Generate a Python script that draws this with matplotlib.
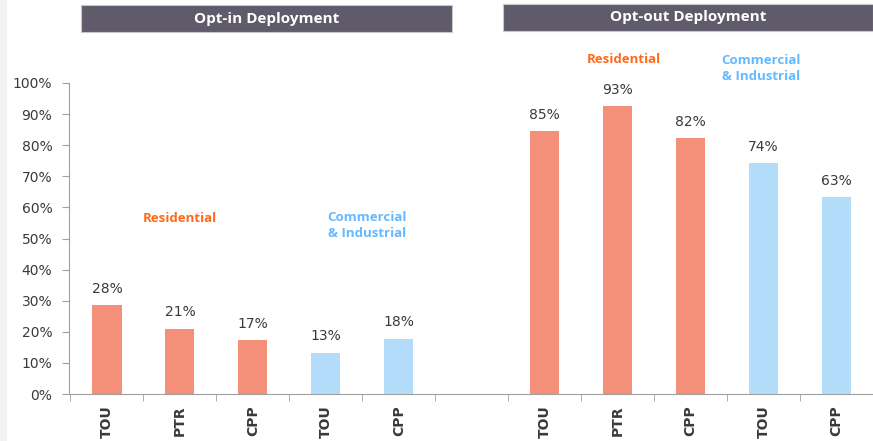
import matplotlib.pyplot as plt
from matplotlib.patches import Rectangle

# categories (blank slot separates the two deployment groups)
categories = ["TOU", "PTR", "CPP", "TOU", "CPP", "", "TOU", "PTR", "CPP", "TOU", "CPP"]
values = [28.5, 21, 17.4, 13.3, 17.8, None, 84.6, 92.6, 82.3, 74.3, 63.3]
value_labels = ["28%", "21%", "17%", "13%", "18%", "", "85%", "93%", "82%", "74%", "63%"]
segments = ["res", "res", "res", "ci", "ci", None, "res", "res", "res", "ci", "ci"]
yticks = [0, 10, 20, 30, 40, 50, 60, 70, 80, 90, 100]

colors = {"res": "#f4907a", "ci": "#b3dcfb"}
txt_gray = "#3a3a3a"
sans = ['Open Sans', 'DejaVu Sans']

plt.rcParams['font.family'] = ['DejaVu Sans']

fig = plt.figure(figsize=(8.73, 4.41), dpi=100)
fig.patch.set_facecolor("white")
ax = fig.add_axes([69 / 873, 47 / 441, (873 - 69) / 873, (394 - 83) / 441])

for i, v in enumerate(values):
    if v is None:
        continue
    ax.bar(i, v, width=0.4, color=colors[segments[i]], zorder=2)
    ax.text(i, v + 3, value_labels[i], ha="center", va="bottom",
            fontsize=10, color=txt_gray)

ax.set_xlim(-0.52, 10.37)
ax.set_ylim(0, 100)
ax.set_yticks(yticks)
ax.set_yticklabels([f"{t}%" for t in yticks], fontsize=10, color=txt_gray)
ax.set_xticks(range(len(categories)))
ax.set_xticklabels(categories, rotation=90, fontsize=10, color=txt_gray,
                   fontweight="bold")
ax.tick_params(axis="x", which="major", length=0, pad=8)
ax.set_xticks([i + 0.5 for i in range(-1, len(categories))], minor=True)
ax.tick_params(axis="x", which="minor", length=5, color="#a0a0a0", direction="out")
ax.tick_params(axis="y", length=5, color="#a0a0a0", direction="out", pad=7)

for s in ["top", "right"]:
    ax.spines[s].set_visible(False)
ax.spines["left"].set_color("#a0a0a0")
ax.spines["bottom"].set_color("#a0a0a0")

# segment annotations
ax.text(1.0, 56.3, "Residential", ha="center", va="center", fontsize=9.5,
        fontweight="bold", color="#ff6a1a", family=sans)
ax.text(3.56, 54.3, "Commercial\n& Industrial", ha="center", va="center",
        fontsize=9.5, fontweight="bold", color="#66b8ff", linespacing=1.3, family=sans)
ax.text(7.08, 107.4, "Residential", ha="center", va="center", fontsize=9.5,
        fontweight="bold", color="#ff6a1a", family=sans)
ax.text(8.96, 104.8, "Commercial\n& Industrial", ha="center", va="center",
        fontsize=9.5, fontweight="bold", color="#66b8ff", linespacing=1.3, family=sans)

# header boxes
headers = [("Opt-in Deployment", 81, 452, 5, 32), ("Opt-out Deployment", 503, 873, 4, 31)]
for label, x0, x1, y0, y1 in headers:
    fig.patches.append(Rectangle((x0 / 873, 1 - y1 / 441), (x1 - x0) / 873,
                                 (y1 - y0) / 441, transform=fig.transFigure,
                                 facecolor="#5f5b6b", edgecolor="#c8c8c8", lw=0.8))
    fig.text((x0 + x1) / 2 / 873, 1 - (y0 + y1) / 2 / 441, label, ha="center",
             va="center", fontsize=11, fontweight="bold", color="white", family=sans)

# light strip on the far left
fig.patches.append(Rectangle((0, 0), 7 / 873, 1, transform=fig.transFigure,
                             facecolor="#f2f2f2", edgecolor="none"))

fig.savefig("out.png", dpi=100)
